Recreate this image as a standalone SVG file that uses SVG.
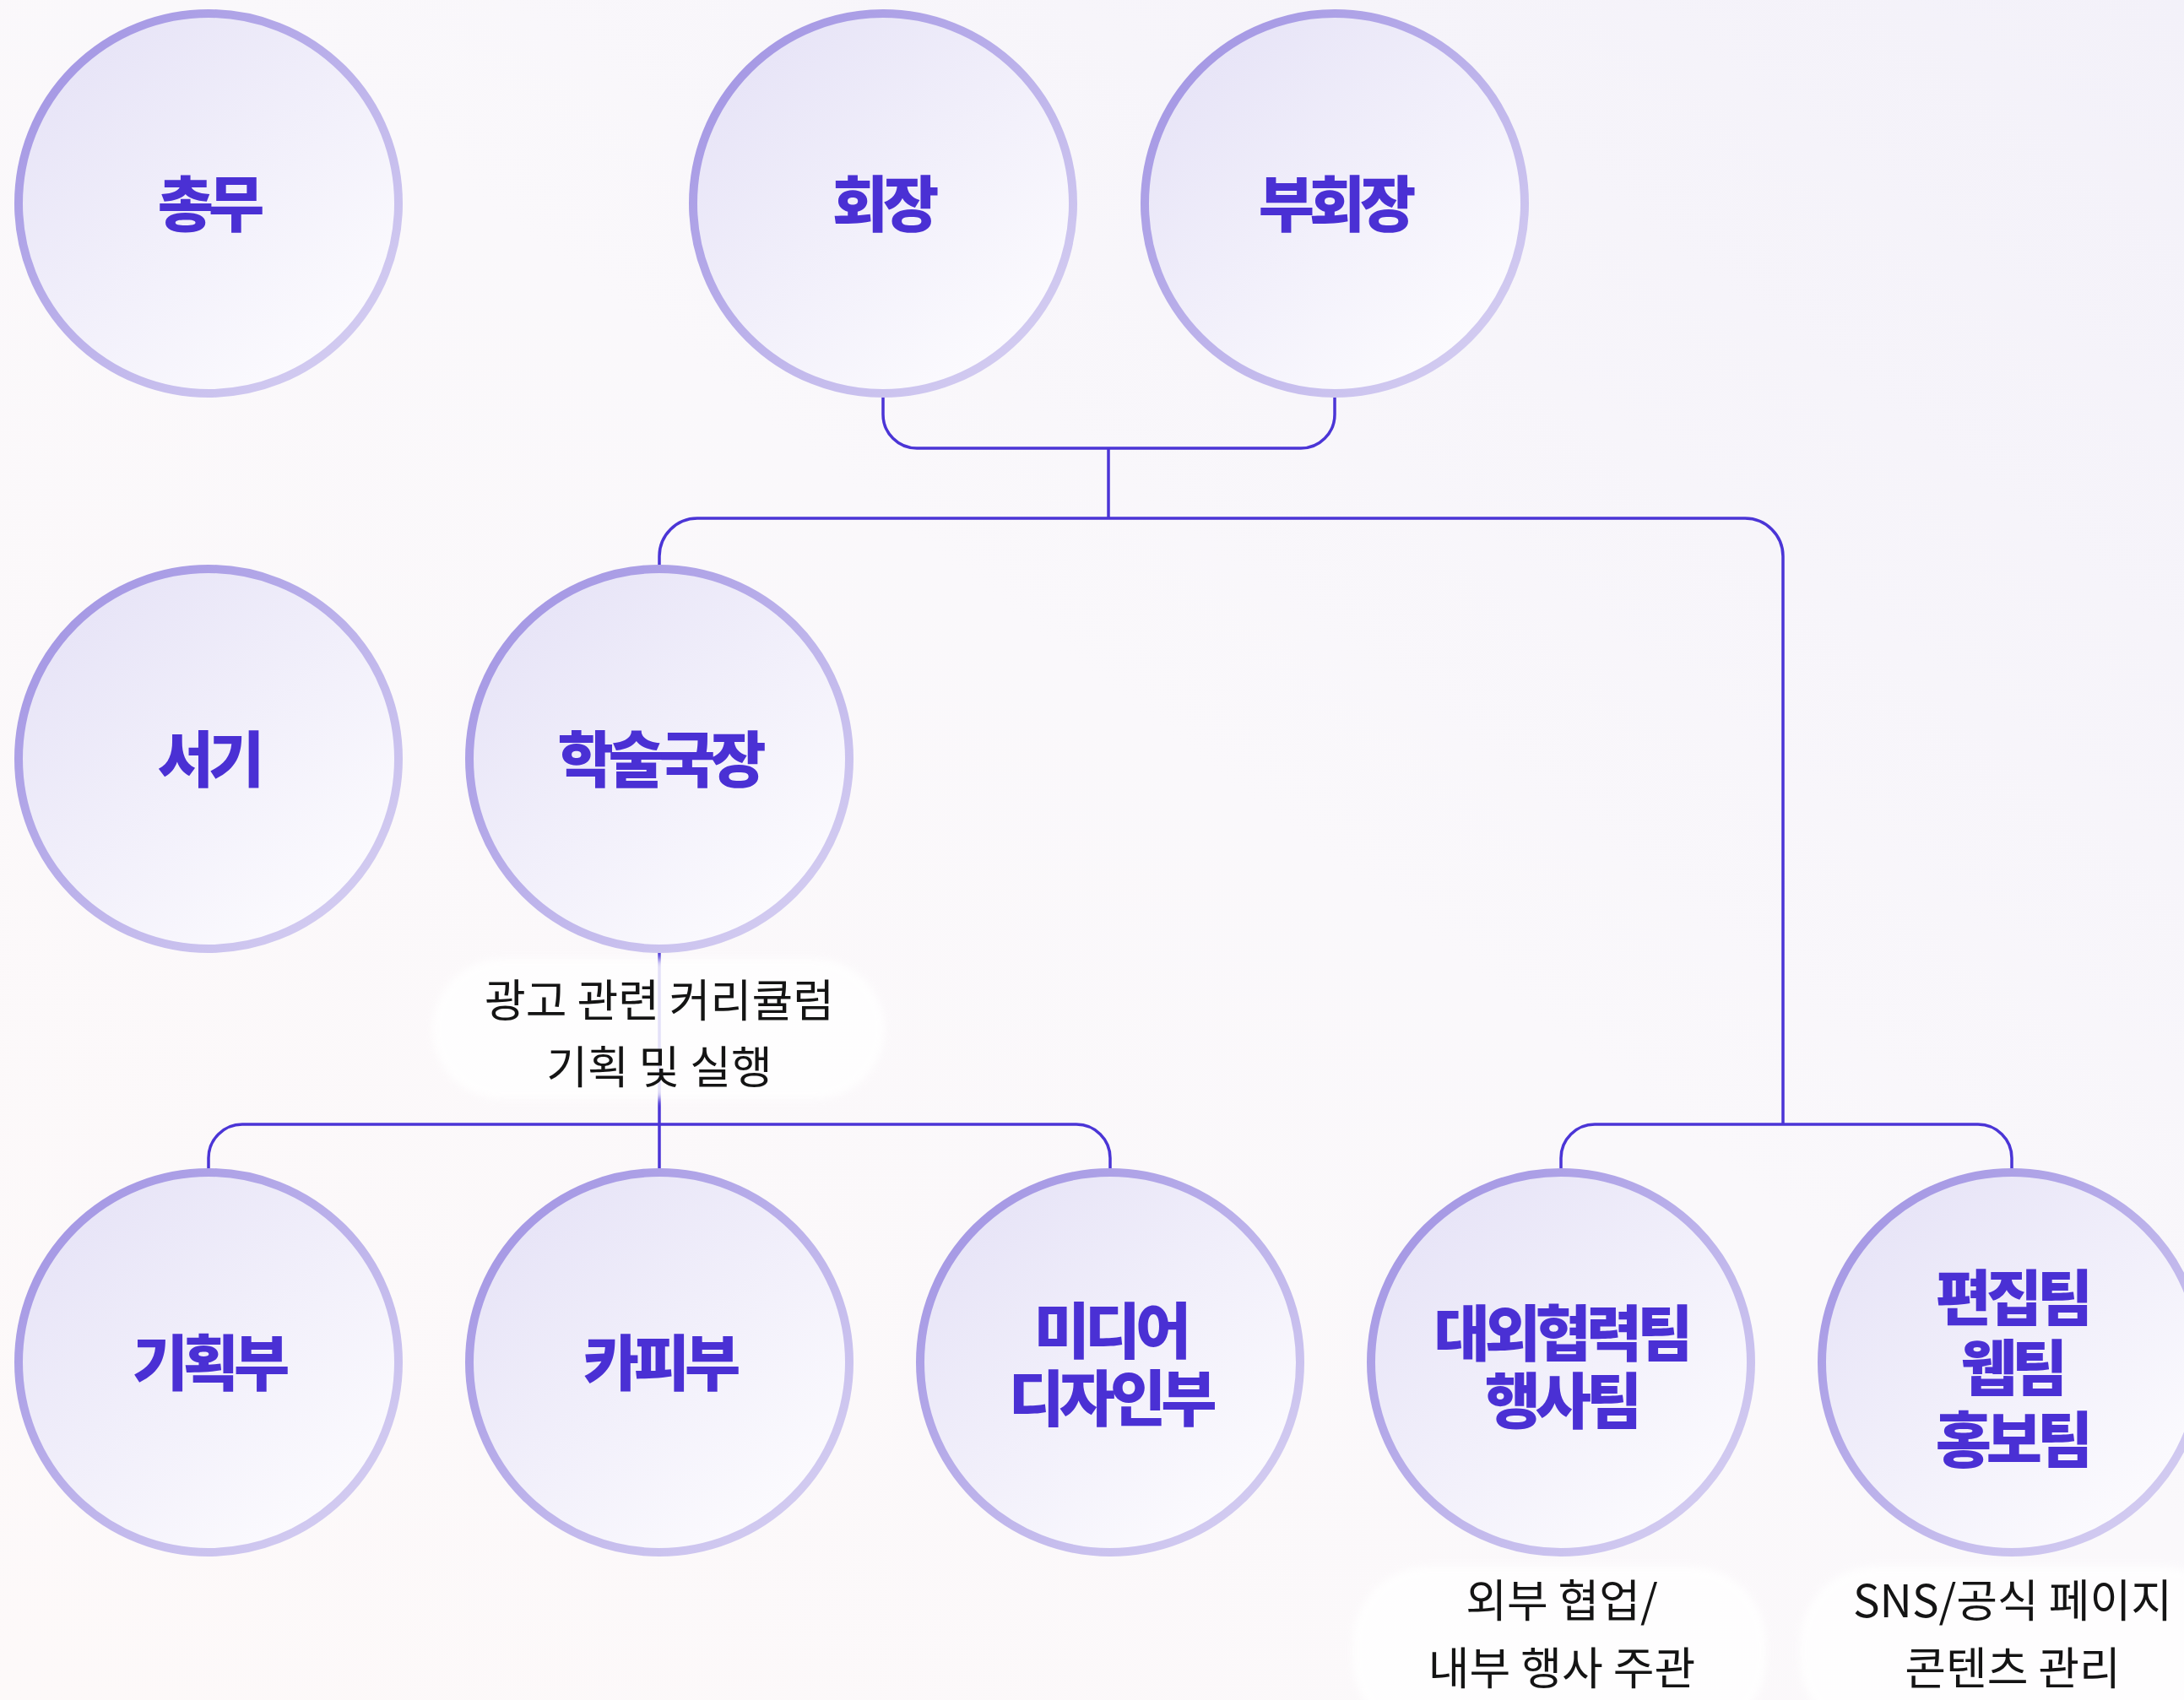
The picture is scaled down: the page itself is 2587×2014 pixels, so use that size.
<svg xmlns="http://www.w3.org/2000/svg" width="2587" height="2014" viewBox="0 0 2587 2014">
<defs>
<linearGradient id="bg" x1="0" y1="1" x2="1" y2="0">
<stop offset="0" stop-color="#FDF9F9"/>
<stop offset="0.55" stop-color="#FAF8FB"/>
<stop offset="1" stop-color="#F3F1F9"/>
</linearGradient>
<linearGradient id="cfill" x1="0.15" y1="0.1" x2="0.85" y2="0.9">
<stop offset="0" stop-color="#E7E4F7"/>
<stop offset="1" stop-color="#FCFBFE"/>
</linearGradient>
<linearGradient id="cstroke" x1="0.1" y1="0.1" x2="0.9" y2="0.9">
<stop offset="0" stop-color="#A497E4"/>
<stop offset="1" stop-color="#D4CDF1"/>
</linearGradient>
<filter id="soft" x="-10%" y="-20%" width="120%" height="140%">
<feGaussianBlur stdDeviation="5"/>
</filter>
<style>
.node circle{fill:url(#cfill);stroke:url(#cstroke);stroke-width:10}
.node text{font-family:"Noto Sans CJK KR","Noto Sans",sans-serif;font-weight:900;font-size:72px;fill:#4A30D4;text-anchor:middle;letter-spacing:-6px}
.conn path{fill:none;stroke:#4B35D6;stroke-width:3.5}
.pill{fill:#FFFFFF;opacity:0.85}
.lbl{font-family:"Noto Sans CJK KR","Noto Sans",sans-serif;font-weight:400;font-size:53px;fill:#141414;text-anchor:middle}
</style>
</defs>
<rect width="2587" height="2014" fill="url(#bg)"/>

<g id="connectors" class="conn">
<path d="M1046,471 V491 A40,40 0 0 0 1086,531 H1541 A40,40 0 0 0 1581,491 V471"/>
<path d="M1313,531 V614"/>
<path d="M781,669 V659 A45,45 0 0 1 826,614 H2067 A45,45 0 0 1 2112,659 V1332"/>
<path d="M781,1128 V1384"/>
<path d="M247,1384 V1372 A40,40 0 0 1 287,1332 H1275 A40,40 0 0 1 1315,1372 V1384"/>
<path d="M1849,1384 V1372 A40,40 0 0 1 1889,1332 H2343 A40,40 0 0 1 2383,1372 V1384"/>
</g>

<g id="node-chongmu" class="node"><circle cx="247" cy="241" r="225"/><text x="247" y="268">총무</text></g>
<g id="node-hoejang" class="node"><circle cx="1046" cy="241" r="225"/><text x="1046" y="268">회장</text></g>
<g id="node-buhoejang" class="node"><circle cx="1581" cy="241" r="225"/><text x="1581" y="268">부회장</text></g>
<g id="node-seogi" class="node"><circle cx="247" cy="899" r="225"/><text x="247" y="926">서기</text></g>
<g id="node-haksul" class="node"><circle cx="781" cy="899" r="225"/><text x="781" y="926">학술국장</text></g>
<g id="node-gihoek" class="node"><circle cx="247" cy="1614" r="225"/><text x="247" y="1641">기획부</text></g>
<g id="node-kapi" class="node"><circle cx="781" cy="1614" r="225"/><text x="781" y="1641">카피부</text></g>
<g id="node-media" class="node"><circle cx="1315" cy="1614" r="225"/><text x="1315" y="1603">미디어</text><text x="1315" y="1683">디자인부</text></g>
<g id="node-daeoe" class="node"><circle cx="1849" cy="1614" r="225"/><text x="1849" y="1606">대외협력팀</text><text x="1849" y="1686">행사팀</text></g>
<g id="node-pyeonjip" class="node"><circle cx="2383" cy="1614" r="225"/><text x="2383" y="1564">편집팀</text><text x="2383" y="1647">웹팀</text><text x="2383" y="1732">홍보팀</text></g>

<g id="label-haksul">
<rect class="pill" x="512" y="1136" width="536" height="166" rx="83" filter="url(#soft)"/>
<text class="lbl" x="781" y="1205">광고 관련 커리큘럼</text>
<text class="lbl" x="781" y="1284">기획 및 실행</text>
</g>
<g id="label-daeoe">
<rect class="pill" x="1602" y="1856" width="490" height="200" rx="90" filter="url(#soft)"/>
<text class="lbl" x="1850" y="1916">외부 협업/</text>
<text class="lbl" x="1850" y="1996">내부 행사 주관</text>
</g>
<g id="label-pyeonjip">
<rect class="pill" x="2132" y="1856" width="520" height="200" rx="90" filter="url(#soft)"/>
<text class="lbl" x="2384" y="1916">SNS/공식 페이지</text>
<text class="lbl" x="2384" y="1996">콘텐츠 관리</text>
</g>
</svg>
